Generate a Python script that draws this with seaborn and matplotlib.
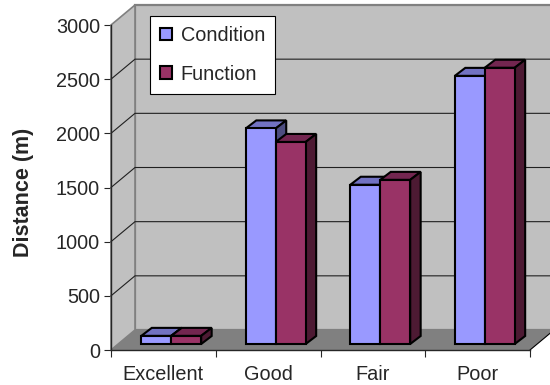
import pandas as pd
import seaborn as sns
import matplotlib.pyplot as plt
from matplotlib.patches import Polygon

ratings = ['Excellent', 'Good', 'Fair', 'Poor']
condition = [75, 1990, 1470, 2475]
function = [75, 1865, 1515, 2550]
y_ticks = [0, 500, 1000, 1500, 2000, 2500, 3000]

W, H = 550, 385
BLUE, BLUE_TOP = '#9999FF', '#7272C2'
RED, RED_TOP, RED_SIDE = '#993366', '#732650', '#4D1A33'
BLUE_SIDE = '#4D4D80'
WALL, FLOOR = '#C0C0C0', '#808080'
FONT_SIZE = 14.3


def add_px_axes(fig, left, right, bottom, top):
    """Add an axes placed by pixel edges, measured from the top left."""
    return fig.add_axes([left / W, 1 - bottom / H, (right - left) / W, (bottom - top) / H])


def draw_back(ax):
    """Draw walls, floor, gridlines and the axis furniture."""
    ax.set_xlim(0, 4)
    ax.set_ylim(0, 3000)
    dx, dy = 24 / 104.75, 20 / (325 / 3000)
    ax.add_patch(Polygon([(dx, dy), (4 + dx, dy), (4 + dx, 3000 + dy), (dx, 3000 + dy)],
                         fc=WALL, ec=FLOOR, lw=1.6, clip_on=False, zorder=1))
    ax.add_patch(Polygon([(0, 0), (dx, dy), (dx, 3000 + dy), (0, 3000)],
                         fc=WALL, ec=FLOOR, lw=1.2, clip_on=False, zorder=1))
    ax.add_patch(Polygon([(0, 0), (4, 0), (4 + dx, dy), (dx, dy)],
                         fc=FLOOR, ec='none', clip_on=False, zorder=1.5))
    for v in y_ticks[1:-1]:
        ax.plot([0, dx, 4 + dx], [v, v + dy, v + dy], color='#202020', lw=0.8,
                clip_on=False, zorder=2)
    ax.plot([4, 4 + dx], [0, dy], color='black', lw=0.8, clip_on=False, zorder=2)
    ax.patch.set_visible(False)
    for side in ['top', 'right']:
        ax.spines[side].set_visible(False)
    for side in ['left', 'bottom']:
        ax.spines[side].set_linewidth(1.0)
        ax.spines[side].set_zorder(2.5)
    ax.set_yticks(y_ticks)
    ax.set_xticks(range(5))
    ax.set_xticklabels([])
    ax.set_xticks([i + 0.5 for i in range(4)], ratings, minor=True)
    ax.tick_params(axis='x', which='minor', length=0, pad=11, labelsize=FONT_SIZE)
    ax.tick_params(axis='x', which='major', length=5, width=0.8)
    ax.tick_params(axis='y', length=5, width=0.8, pad=3, labelsize=FONT_SIZE)
    ax.set_xlabel('')
    ax.set_ylabel('')


def add_depth(ax, bar, top_color, side_color, z):
    """Give one seaborn bar a top and a side face."""
    x0, y0 = bar.get_xy()
    x1, y1 = x0 + bar.get_width(), y0 + bar.get_height()
    dx, dy = 10.5 / 104.75, 8 / (325 / 3000)
    style = dict(ec='black', lw=1.5, joinstyle='miter', clip_on=False, zorder=z)
    ax.add_patch(Polygon([(x0, y1), (x0 + dx, y1 + dy), (x1 + dx, y1 + dy), (x1, y1)],
                         fc=top_color, **style))
    ax.add_patch(Polygon([(x1, y0), (x1 + dx, y0 + dy), (x1 + dx, y1 + dy), (x1, y1)],
                         fc=side_color, **style))
    bar.set_zorder(z + 0.5)
    bar.set_clip_on(False)


def main():
    sns.set_style('ticks')
    plt.rcParams['font.family'] = ['Liberation Sans', 'DejaVu Sans']

    df = pd.DataFrame({
        'rating': ratings * 2,
        'distance': condition + function,
        'measure': ['Condition'] * 4 + ['Function'] * 4,
    })

    fig = plt.figure(figsize=(W / 100, H / 100), dpi=100, facecolor='white')
    ax = add_px_axes(fig, 111, 530, 350, 25)
    draw_back(ax)

    ax_bar = add_px_axes(fig, 119, 537, 344, 19)
    sns.barplot(data=df, x='rating', y='distance', hue='measure', order=ratings,
                palette=[BLUE, RED], saturation=1, width=0.573, gap=0,
                edgecolor='black', linewidth=1.5, ax=ax_bar)
    ax_bar.set_xlim(-0.5, 3.5)
    ax_bar.set_ylim(0, 3000)
    ax_bar.axis('off')

    handles, labels = ax_bar.get_legend_handles_labels()
    for bar in ax_bar.containers[0]:
        add_depth(ax_bar, bar, BLUE_TOP, BLUE_SIDE, 3)
    for bar in ax_bar.containers[1]:
        add_depth(ax_bar, bar, RED_TOP, RED_SIDE, 5)

    ax_bar.get_legend().remove()
    leg = ax_bar.legend(handles, labels, loc='upper left',
                        bbox_to_anchor=(150 / W, 1 - 16 / H),
                        bbox_transform=fig.transFigure, frameon=True, fancybox=False,
                        framealpha=1, edgecolor='black', fontsize=FONT_SIZE,
                        handlelength=0.6, handleheight=0.6, handletextpad=0.45,
                        labelspacing=1.0, borderpad=0.5, borderaxespad=0)
    leg.set_zorder(10)
    leg.get_frame().set_linewidth(0.8)

    fig.text(23 / W, 1 - 192 / H, 'Distance (m)', rotation=90, ha='center', va='center',
             fontsize=15.5, fontweight='bold')

    plt.savefig('out.png', dpi=100)
    plt.close()


if __name__ == "__main__":
    main()
